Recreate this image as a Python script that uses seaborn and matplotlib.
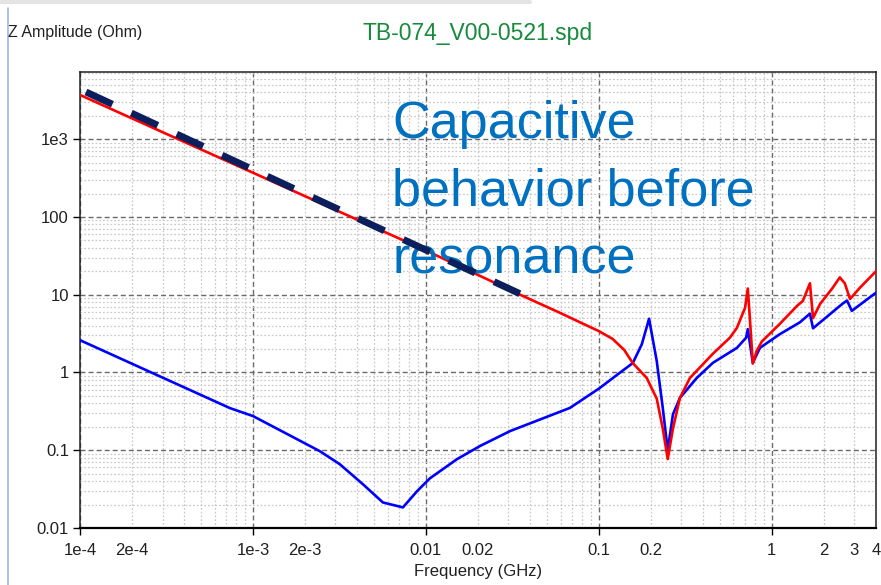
import numpy as np
import pandas as pd
import matplotlib
matplotlib.use("Agg")
import matplotlib.pyplot as plt
from matplotlib.ticker import FixedLocator, FuncFormatter, LogLocator, NullFormatter
from matplotlib.lines import Line2D
import seaborn as sns

# ---------------- data ----------------
red_freq = [1e-4, 3e-4, 1e-3, 3e-3, 0.01, 0.035, 0.06, 0.078, 0.1, 0.12, 0.14, 0.157, 0.189,
            0.216, 0.234, 0.25, 0.268, 0.294, 0.336, 0.456, 0.572, 0.628, 0.70, 0.726,
            0.746, 0.776, 0.818, 0.875, 1.11, 1.40, 1.51, 1.66, 1.73, 1.90, 2.25, 2.47,
            2.64, 2.83, 3.23, 4.0]
red_z = [3700, 1230, 370, 123, 37, 10, 5.8, 4.4, 3.4, 2.7, 1.95, 1.32, 0.85,
         0.46, 0.19, 0.077, 0.19, 0.47, 0.85, 1.74, 2.8, 3.75, 6.8, 12,
         5.0, 1.3, 1.9, 2.5, 4.2, 7.2, 8.3, 14, 5.0, 7.6, 12.3, 16.7,
         14, 8.8, 12.3, 20]

blue_freq = [1e-4, 7.36e-4, 1e-3, 2.44e-3, 3.18e-3, 4.33e-3, 5.64e-3, 7.36e-3, 8.87e-3,
             0.01054, 0.0151, 0.0205, 0.0306, 0.068, 0.1, 0.132, 0.157, 0.177, 0.195,
             0.216, 0.234, 0.25, 0.268, 0.294, 0.368, 0.456, 0.628, 0.71, 0.726, 0.776,
             0.853, 1.11, 1.45, 1.66, 1.73, 1.90, 2.57, 2.72, 2.90, 4.0]
blue_z = [2.6, 0.348, 0.275, 0.097, 0.066, 0.0364, 0.0213, 0.0184, 0.0296,
          0.0435, 0.0766, 0.113, 0.176, 0.35, 0.62, 0.99, 1.32, 2.3, 4.9,
          1.4, 0.35, 0.1, 0.29, 0.47, 0.85, 1.33, 2.07, 2.8, 3.6, 1.33,
          2.07, 3.1, 4.4, 5.7, 3.7, 4.4, 7.7, 8.4, 6.2, 10.6]

fit_freq = [1.083e-4, 0.0349]
fit_z = [4040, 10.3]

x_major = [1e-4, 1e-3, 0.01, 0.1, 1]
x_major_labels = ["1e-4", "1e-3", "0.01", "0.1", "1"]
x_minor_labeled = [2e-4, 2e-3, 0.02, 0.2, 2, 3, 4]
x_minor_labels = ["2e-4", "2e-3", "0.02", "0.2", "2", "3", "4"]
y_major = [0.01, 0.1, 1, 10, 100, 1000]
y_major_labels = ["0.01", "0.1", "1", "10", "100", "1e3"]

title = "TB-074_V00-0521.spd"
y_title = "Z Amplitude (Ohm)"
x_title = "Frequency (GHz)"
note = "Capacitive\nbehavior before\nresonance"

# ---------------- style ----------------
sns.set_theme(style="white")
plt.rcParams["font.family"] = ["Liberation Sans", "DejaVu Sans"]
plt.rcParams["axes.edgecolor"] = "black"

fig = plt.figure(figsize=(8.81, 5.85), dpi=100)
ax = fig.add_axes([80 / 881, 57 / 585, 796 / 881, 456 / 585])

red_df = pd.DataFrame({"f": red_freq, "z": red_z})
blue_df = pd.DataFrame({"f": blue_freq, "z": blue_z})
fit_df = pd.DataFrame({"f": fit_freq, "z": fit_z})

sns.lineplot(data=red_df, x="f", y="z", ax=ax, color="#ff0000", lw=1.9,
             estimator=None, sort=False, zorder=4)
sns.lineplot(data=blue_df, x="f", y="z", ax=ax, color="#0000ff", lw=1.9,
             estimator=None, sort=False, zorder=3)
sns.lineplot(data=fit_df, x="f", y="z", ax=ax, color="#0b1f5c", lw=5,
             estimator=None, sort=False, zorder=6,
             linestyle=(0, (4.2, 3.0)), dash_capstyle="butt")

ax.set_xscale("log")
ax.set_yscale("log")
ax.set_xlim(1e-4, 4)
ax.set_ylim(0.01, 7300)

# ticks
ax.xaxis.set_major_locator(FixedLocator(x_major))
ax.xaxis.set_major_formatter(FuncFormatter(
    lambda v, p: dict(zip([round(np.log10(a), 4) for a in x_major], x_major_labels)).get(round(np.log10(v), 4), "")))
ax.xaxis.set_minor_locator(LogLocator(base=10, subs=np.arange(2, 10), numticks=100))
ax.xaxis.set_minor_formatter(FuncFormatter(
    lambda v, p: dict(zip([round(np.log10(a), 4) for a in x_minor_labeled], x_minor_labels)).get(round(np.log10(v), 4), "")))
ax.yaxis.set_major_locator(FixedLocator(y_major))
ax.yaxis.set_major_formatter(FuncFormatter(
    lambda v, p: dict(zip([round(np.log10(a), 4) for a in y_major], y_major_labels)).get(round(np.log10(v), 4), "")))
ax.yaxis.set_minor_locator(LogLocator(base=10, subs=np.arange(2, 10), numticks=100))
ax.yaxis.set_minor_formatter(NullFormatter())

ax.tick_params(axis="both", which="major", direction="out", length=5, width=1,
               color="black", labelsize=12, labelcolor="#202020", pad=3,
               bottom=True, left=True)
ax.tick_params(axis="x", which="major", pad=6)
ax.tick_params(axis="x", which="minor", length=0, labelsize=12, labelcolor="#202020", pad=11)
ax.tick_params(axis="y", which="minor", length=0)

# grid
ax.grid(True, which="minor", color="#c8c8c8", lw=0.9, linestyle=(0, (1.4, 1.6)), zorder=0)
ax.grid(True, which="major", color="#6a6a6a", lw=1.0, linestyle=(0, (3.6, 2.2)), zorder=1)
ax.set_axisbelow(True)

for s in ["top", "right", "left"]:
    ax.spines[s].set_visible(True)
    ax.spines[s].set_color("#202020")
    ax.spines[s].set_linewidth(1.1)
ax.spines["bottom"].set_color("black")
ax.spines["bottom"].set_linewidth(1.6)

ax.set_xlabel(x_title, fontsize=12, color="#202020", labelpad=4)
ax.set_ylabel("")
ax.set_title(title, fontsize=16.5, color="#178a3c", pad=23)
fig.text(8 / 881, 1 - 32 / 585, y_title, fontsize=11.5, color="#202020",
         ha="left", va="center")

# annotation: va='baseline' anchors the baseline of the last line
ax.text(0.392, 0.558, note, transform=ax.transAxes, fontsize=37.5, color="#0070c0",
        ha="left", va="baseline", linespacing=1.49, zorder=5)

# window decorations
fig.add_artist(Line2D([7.5 / 881, 7.5 / 881], [0.0, 1 - 8 / 585], transform=fig.transFigure,
                      color="#9bbbe6", lw=1.2))
fig.add_artist(Line2D([0, 530 / 881], [1 - 1.5 / 585, 1 - 1.5 / 585], transform=fig.transFigure,
                      color="#e4e4e4", lw=3))

fig.savefig("out.png", dpi=100)
